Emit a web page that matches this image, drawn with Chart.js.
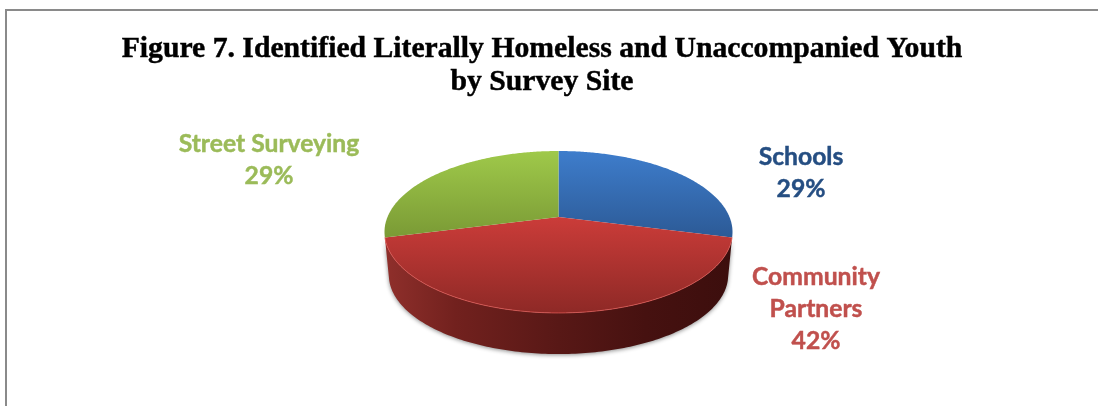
<!DOCTYPE html>
<html>
<head>
<meta charset="utf-8">
<title>Figure 7</title>
<script src="https://cdn.jsdelivr.net/npm/chart.js@4"></script>
<style>
  html, body { margin: 0; padding: 0; background: #fff; overflow: hidden; }
  #frame { position: absolute; left: 5px; top: 9px; width: 1093px; height: 397px;
           border-left: 2px solid #8a8a8a; border-top: 2px solid #8a8a8a; box-sizing: border-box; }
  #wrap { position: absolute; left: 0; top: 0; width: 1098px; height: 406px; }
</style>
</head>
<body>
<div id="frame"></div>
<div id="wrap"><canvas id="pie" width="1098" height="406"></canvas></div>
<script>
const titleLines = ["Figure 7. Identified Literally Homeless and Unaccompanied Youth", "by Survey Site"];
const categories = ["Schools", "Community Partners", "Street Surveying"];
const shares = [29, 42, 29];
const labelLines = [["Schools"], ["Community", "Partners"], ["Street Surveying"]];
const labelColors = ["#254E82", "#C0504D", "#9BBB59"];

// Top face gradients per slice, light edge first.
const faceStops = [["#3E7DCC", "#2C5A96"], ["#CB3C39", "#8E2926"], ["#9FC94A", "#7A9A35"]];

// Where each slice's text block is centred, and its first baseline.
const labelAnchors = [[801, 165], [816, 285], [269, 152]];

const CX = 558.5, APEX_Y = 217, RADIUS = 171;
const TILT = 78.2, NEAR = -0.185;   // foreshortening of the disc
const DEPTH = 43.5, BASE_SCALE = 0.975;

// Map a point on the flat disc onto the tilted one.
function project(arc, angle, scale, drop) {
  const u = Math.cos(angle), v = Math.sin(angle);
  const w = 1 + NEAR * v;
  return [arc.x + scale * arc.outerRadius * u / w,
          arc.y + drop + scale * TILT * v / w];
}

function rim(arc, a0, a1, scale, drop) {
  const pts = [], n = 160;
  for (let i = 0; i <= n; i++) pts.push(project(arc, a0 + (a1 - a0) * i / n, scale, drop));
  return pts;
}

const spansFront = arc => arc.startAngle < Math.PI / 2 && arc.endAngle > Math.PI / 2;

const tiltedPie = {
  id: "tiltedPie",
  beforeDatasetsDraw(chart) {
    const ctx = chart.ctx;
    const arcs = chart.getDatasetMeta(0).data;

    // Wall of the slice that faces the viewer.
    arcs.filter(spansFront).forEach(arc => {
      const top = rim(arc, arc.startAngle, arc.endAngle, 1, 0);
      const bottom = rim(arc, arc.startAngle, arc.endAngle, BASE_SCALE, DEPTH).reverse();
      const g = ctx.createLinearGradient(386, 0, 732, 0);
      g.addColorStop(0, "#8F2F2B");
      g.addColorStop(0.2, "#72211E");
      g.addColorStop(0.5, "#581816");
      g.addColorStop(0.75, "#461110");
      g.addColorStop(1, "#3C0E0D");
      ctx.save();
      ctx.shadowColor = "rgba(0,0,0,0.45)";
      ctx.shadowBlur = 4;
      ctx.shadowOffsetY = 1;
      ctx.beginPath();
      top.concat(bottom).forEach((p, i) => i ? ctx.lineTo(p[0], p[1]) : ctx.moveTo(p[0], p[1]));
      ctx.closePath();
      ctx.fillStyle = g;
      ctx.fill();
      ctx.restore();
    });

    // Top faces.
    arcs.forEach((arc, i) => {
      const edge = rim(arc, arc.startAngle, arc.endAngle, 1, 0);
      const ys = edge.map(p => p[1]).concat(arc.y);
      const g = ctx.createLinearGradient(0, Math.min(...ys), 0, Math.max(...ys));
      g.addColorStop(0, faceStops[i][0]);
      g.addColorStop(1, faceStops[i][1]);
      ctx.beginPath();
      ctx.moveTo(arc.x, arc.y);
      edge.forEach(p => ctx.lineTo(p[0], p[1]));
      ctx.closePath();
      ctx.fillStyle = g;
      ctx.fill();
    });

    // Bright lip where the front slice meets its wall.
    arcs.filter(spansFront).forEach(arc => {
      ctx.beginPath();
      rim(arc, arc.startAngle, arc.endAngle, 1, 0)
        .forEach((p, i) => i ? ctx.lineTo(p[0], p[1]) : ctx.moveTo(p[0], p[1]));
      ctx.strokeStyle = "rgba(226,90,85,0.75)";
      ctx.lineWidth = 1;
      ctx.stroke();
    });
    return false;
  },
  afterDraw(chart) {
    const ctx = chart.ctx;
    // A hairline outline gives the faces a heavier weight.
    const heavyText = (text, x, y, color) => {
      ctx.fillStyle = color;
      ctx.strokeStyle = color;
      ctx.fillText(text, x, y);
      ctx.strokeText(text, x, y);
    };
    ctx.save();
    ctx.textAlign = "center";
    ctx.textBaseline = "alphabetic";
    ctx.lineWidth = 0.45;

    ctx.font = "bold 29.7px 'Liberation Serif'";
    heavyText(titleLines[0], 542, 57, "#000");
    heavyText(titleLines[1], 542, 90, "#000");

    ctx.font = "bold 24.7px Lato";
    shares.forEach((share, i) => {
      const [x, y] = labelAnchors[i];
      const lines = labelLines[i].concat(share + "%");
      lines.forEach((line, k) => heavyText(line, x, y + k * 32, labelColors[i]));
    });
    ctx.restore();
  }
};

new Chart(document.getElementById("pie"), {
  type: "pie",
  data: {
    labels: categories,
    datasets: [{ data: shares, backgroundColor: labelColors, borderWidth: 0 }]
  },
  options: {
    responsive: false,
    animation: false,
    layout: { padding: {
      left: CX - RADIUS,
      right: 1098 - CX - RADIUS,
      top: APEX_Y - RADIUS,
      bottom: 406 - APEX_Y - RADIUS
    } },
    plugins: { legend: { display: false }, title: { display: false }, tooltip: { enabled: false } }
  },
  plugins: [tiltedPie]
});
</script>
</body>
</html>
